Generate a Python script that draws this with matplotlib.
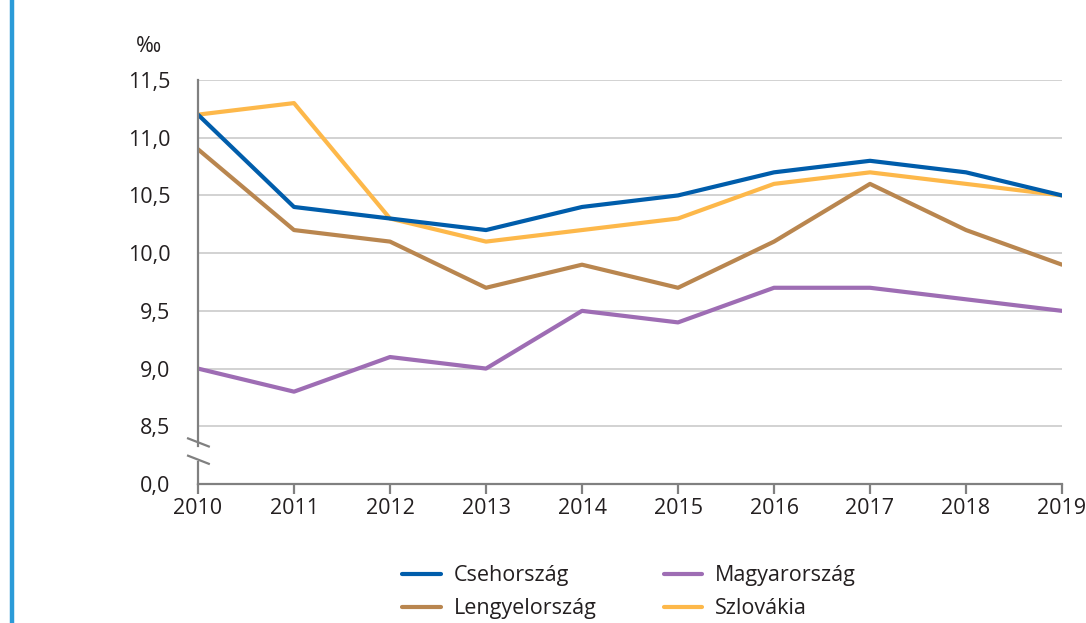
import matplotlib
matplotlib.use("Agg")
import matplotlib.pyplot as plt
import matplotlib.transforms as mtransforms
from matplotlib.lines import Line2D

plt.rcParams['font.family'] = ['Open Sans', 'DejaVu Sans']

# Data (per mille)
years = [2010, 2011, 2012, 2013, 2014, 2015, 2016, 2017, 2018, 2019]
cseh = [11.2, 10.4, 10.3, 10.2, 10.4, 10.5, 10.7, 10.8, 10.7, 10.5]
magyar = [9.0, 8.8, 9.1, 9.0, 9.5, 9.4, 9.7, 9.7, 9.6, 9.5]
lengyel = [10.9, 10.2, 10.1, 9.7, 9.9, 9.7, 10.1, 10.6, 10.2, 9.9]
szlovak = [11.2, 11.3, 10.3, 10.1, 10.2, 10.3, 10.6, 10.7, 10.6, 10.5]

# the bottom tick sits where 8.0 would be, but is labelled 0,0 (broken axis)
ytick_vals = [8.0, 8.5, 9.0, 9.5, 10.0, 10.5, 11.0, 11.5]
ytick_labels = ['0,0', '8,5', '9,0', '9,5', '10,0', '10,5', '11,0', '11,5']

colors = {'Csehország': '#005dab', 'Magyarország': '#9e6db4',
          'Lengyelország': '#b9864f', 'Szlovákia': '#fdb84a'}
values = {'Csehország': cseh, 'Magyarország': magyar,
          'Lengyelország': lengyel, 'Szlovákia': szlovak}

fig = plt.figure(figsize=(10.86, 6.23), dpi=100)
ax = fig.add_axes([198 / 1086, 1 - 484 / 623, (1062 - 198) / 1086, (484 - 80) / 623])

# draw order: yellow under blue like in the picture
for name in ['Szlovákia', 'Lengyelország', 'Magyarország', 'Csehország']:
    ax.plot(years, values[name], color=colors[name], lw=3.0, solid_capstyle='round',
            solid_joinstyle='round', label=name)

ax.set_xlim(2010, 2019)
ax.set_ylim(8.0, 11.5)
ax.set_xticks(years)
ax.set_xticklabels([str(y) for y in years])
ax.set_yticks(ytick_vals)
ax.set_yticklabels(ytick_labels)

for v in ytick_vals[1:]:
    ax.axhline(v, color='#cfcfcf', lw=1.3, zorder=0)

for s in ['top', 'right', 'left']:
    ax.spines[s].set_visible(False)
ax.spines['bottom'].set_color('#808080')
ax.spines['bottom'].set_linewidth(1.6)

ax.tick_params(axis='x', length=7, width=1.6, color='#808080', pad=3,
               labelsize=15.5, labelcolor='#231f20')
ax.tick_params(axis='y', length=0, pad=20, labelsize=15.5, labelcolor='#231f20')

# left spine with a gap and two slashes for the axis break
tr = mtransforms.blended_transform_factory(ax.transAxes, ax.transData)
ax.plot([0, 0], [8.33, 11.5], color='#808080', lw=1.6, transform=tr, clip_on=False)
ax.plot([0, 0], [8.0, 8.19], color='#808080', lw=1.6, transform=tr, clip_on=False)
for yb in [8.36, 8.21]:
    ax.plot([-0.0115, 0.0125], [yb + 0.035, yb - 0.035], color='#808080', lw=1.6,
            transform=tr, clip_on=False)

fig.text(136 / 1086, 1 - 46 / 623, '‰', fontsize=15.5, color='#231f20', va='center')

# blue bar on the left edge
fig.add_artist(Line2D([12 / 1086, 12 / 1086], [0, 1], color='#2b9bd8', lw=3.2))

# legend filled column by column: Cseh / Lengyel, then Magyar / Szlovák
order = ['Csehország', 'Lengyelország', 'Magyarország', 'Szlovákia']
handles = [Line2D([], [], color=colors[n], lw=3.0, solid_capstyle='round') for n in order]
fig.legend(handles, order, ncol=2, loc='upper left',
           bbox_to_anchor=(383 / 1086, 1 - 546 / 623), frameon=False,
           fontsize=15.5, handlelength=1.8, handletextpad=0.6, columnspacing=3.1,
           labelspacing=0.55, labelcolor='#231f20')

fig.savefig('out.png', dpi=100)
